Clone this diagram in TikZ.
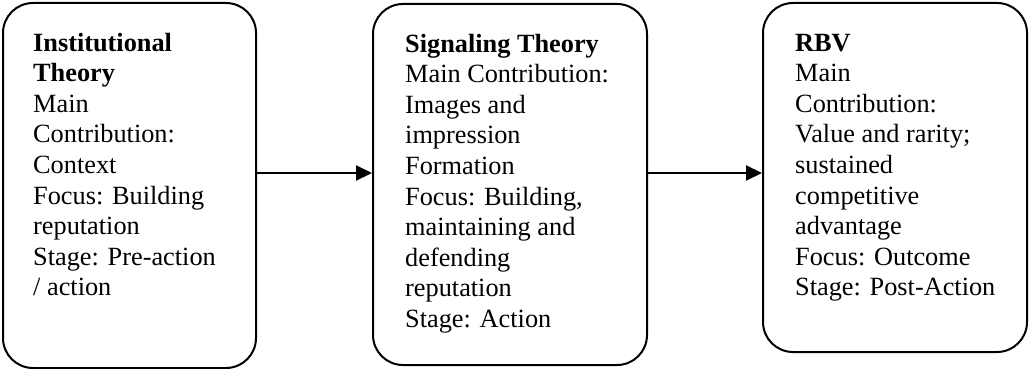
\documentclass[tikz,border=0pt]{standalone}
\usepackage{fontspec}
\setmainfont{Liberation Serif}
\usetikzlibrary{arrows.meta}
\begin{document}
\begin{tikzpicture}[x=1pt,y=-1pt,
  boxstyle/.style={draw=black, line width=2pt, rounded corners=30pt, inner sep=0pt},
  txt/.style={anchor=base west, align=left, inner sep=0pt, font=\fontsize{26.3pt}{30.6pt}\selectfont},
  arr/.style={line width=2pt, -{Triangle[length=16pt,width=15pt]}}]
\useasboundingbox (0,0) rectangle (1030,369);
\node[boxstyle, minimum width=253pt, minimum height=365pt] (b1) at (129.5,185.5) {};
\node[boxstyle, minimum width=274pt, minimum height=361pt] (b2) at (510,184.5) {};
\node[boxstyle, minimum width=264pt, minimum height=349pt] (b3) at (895,177.5) {};
\node[txt] (t1) at (33,295.8) {\textbf{Institutional}\\\textbf{Theory}\\Main\\Contribution:\\Context\\Focus: Building\\reputation\\Stage: Pre-action\\/ action};
\node[txt] (t2) at (405,327.4) {\textbf{Signaling Theory}\\Main Contribution:\\Images and\\impression\\Formation\\Focus: Building,\\maintaining and\\defending\\reputation\\Stage: Action};
\node[txt] (t3) at (795,295.8) {\textbf{RBV}\\Main\\Contribution:\\Value and rarity;\\sustained\\competitive\\advantage\\Focus: Outcome\\Stage: Post-Action};
\coordinate (ay) at (0,173);
\draw[arr] (b1.east |- ay) -- (b2.west |- ay);
\draw[arr] (b2.east |- ay) -- (b3.west |- ay);
\end{tikzpicture}
\end{document}
